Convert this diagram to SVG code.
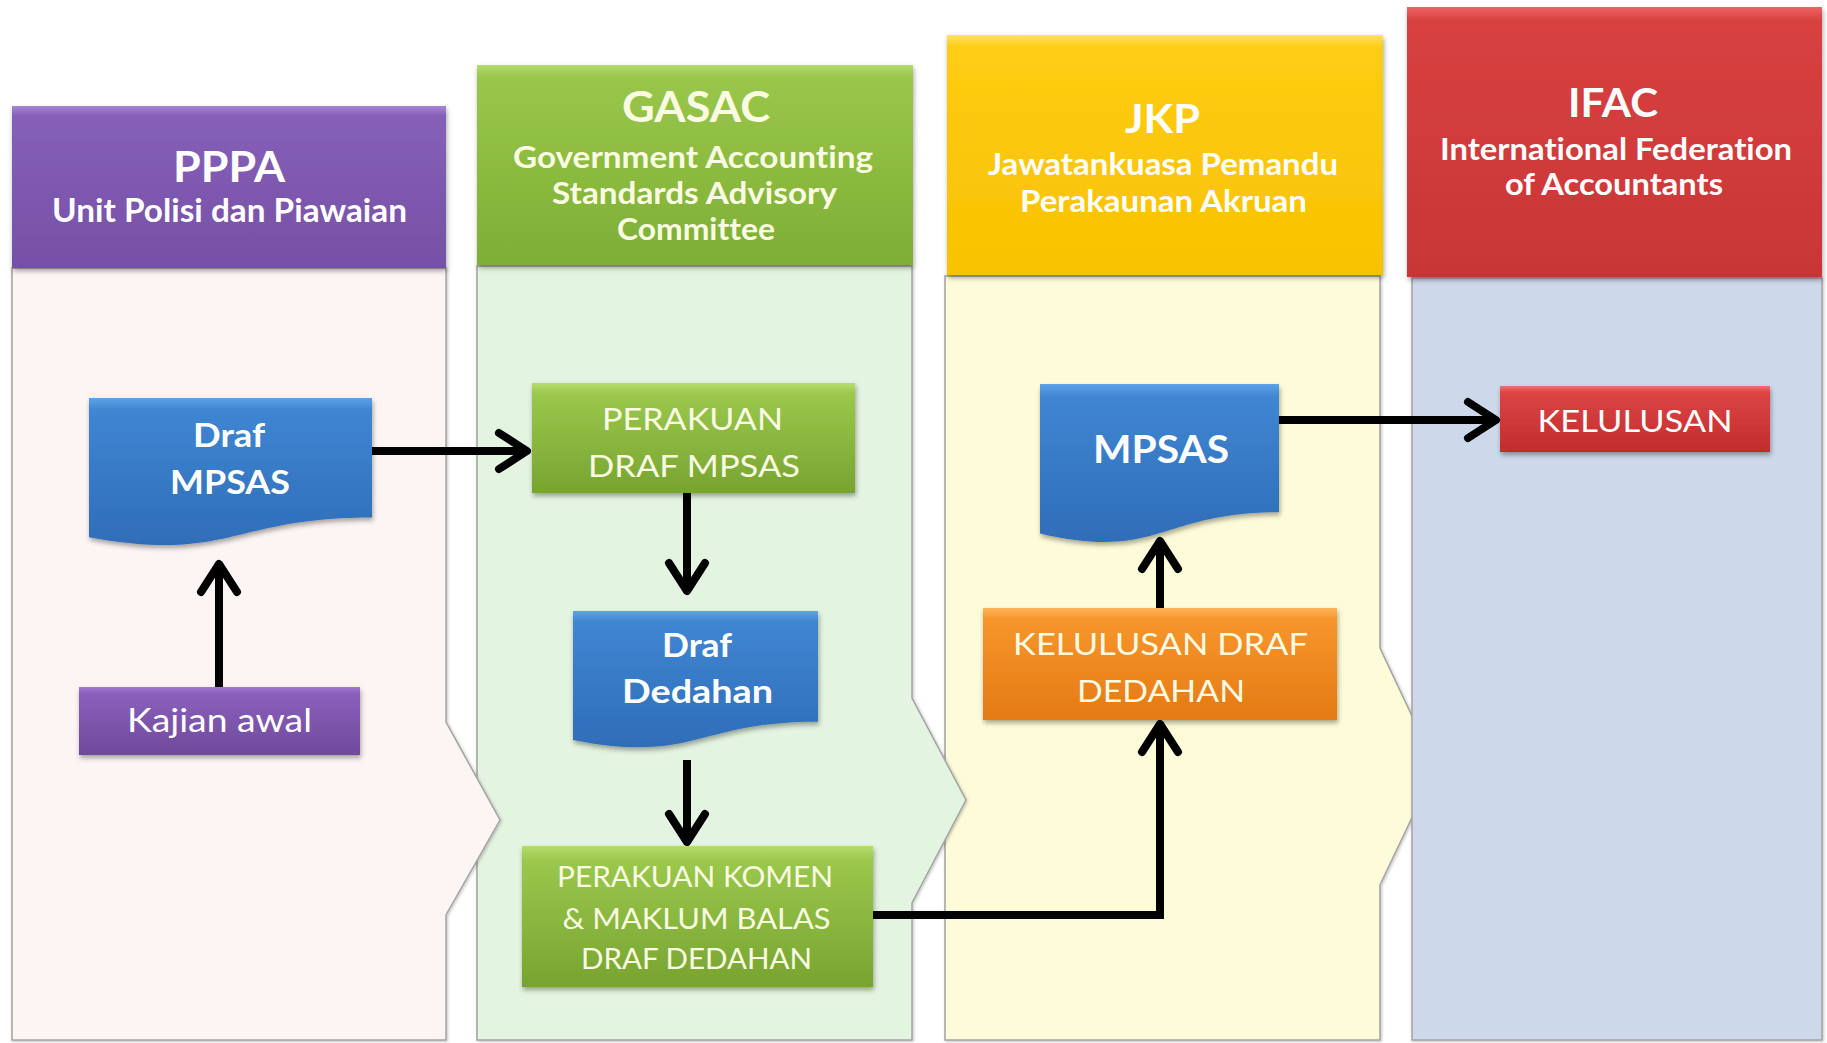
<svg xmlns="http://www.w3.org/2000/svg" width="1827" height="1043" viewBox="0 0 1827 1043">
<style>
.t{font-family:Lato,"Open Sans","Liberation Sans",sans-serif;text-anchor:middle;font-variant-ligatures:none;font-feature-settings:"liga" 0}
.b{font-weight:bold}
.w{fill:#ffffff}
.c{fill:#fafbe2}
.lane{stroke:#a3a3a3;stroke-width:1.5}
.edge{fill:none;stroke:#000;stroke-width:8}
</style>
<defs>
<filter id="sh" x="-10%" y="-10%" width="120%" height="130%">
<feDropShadow dx="1" dy="3" stdDeviation="2.5" flood-color="#000" flood-opacity="0.35"/>
</filter>
<filter id="lsh" x="-5%" y="-5%" width="110%" height="110%">
<feDropShadow dx="1" dy="1" stdDeviation="1.5" flood-color="#000" flood-opacity="0.25"/>
</filter>
<linearGradient id="gPur" x1="0" y1="0" x2="0" y2="1"><stop offset="0" stop-color="#a884d6"/><stop offset="0.06" stop-color="#8660b8"/><stop offset="1" stop-color="#7650a6"/></linearGradient>
<linearGradient id="gGrn" x1="0" y1="0" x2="0" y2="1"><stop offset="0" stop-color="#b4dc6a"/><stop offset="0.06" stop-color="#98c74a"/><stop offset="1" stop-color="#7fae36"/></linearGradient>
<linearGradient id="gYel" x1="0" y1="0" x2="0" y2="1"><stop offset="0" stop-color="#ffe264"/><stop offset="0.05" stop-color="#ffcc14"/><stop offset="1" stop-color="#f8c200"/></linearGradient>
<linearGradient id="gRed" x1="0" y1="0" x2="0" y2="1"><stop offset="0" stop-color="#ec6464"/><stop offset="0.05" stop-color="#d94040"/><stop offset="1" stop-color="#c83636"/></linearGradient>
<linearGradient id="gBlu" x1="0" y1="0" x2="0" y2="1"><stop offset="0" stop-color="#5ea2e6"/><stop offset="0.08" stop-color="#3f86d2"/><stop offset="1" stop-color="#2f6db8"/></linearGradient>
<linearGradient id="gBox" x1="0" y1="0" x2="0" y2="1"><stop offset="0" stop-color="#b6dc6c"/><stop offset="0.1" stop-color="#9ac84c"/><stop offset="1" stop-color="#77a430"/></linearGradient>
<linearGradient id="gOrg" x1="0" y1="0" x2="0" y2="1"><stop offset="0" stop-color="#ffb45a"/><stop offset="0.1" stop-color="#f6962c"/><stop offset="1" stop-color="#e57a14"/></linearGradient>
<linearGradient id="gRbx" x1="0" y1="0" x2="0" y2="1"><stop offset="0" stop-color="#f07070"/><stop offset="0.1" stop-color="#dc4444"/><stop offset="1" stop-color="#c22c2c"/></linearGradient>
<linearGradient id="gPbx" x1="0" y1="0" x2="0" y2="1"><stop offset="0" stop-color="#a27ad0"/><stop offset="0.1" stop-color="#8a5fbc"/><stop offset="1" stop-color="#6f4a9c"/></linearGradient>
<marker id="ah" markerUnits="userSpaceOnUse" viewBox="-40 -30 50 60" markerWidth="50" markerHeight="60" refX="0" refY="0" orient="auto" overflow="visible">
<path d="M-26,-18 L2,0 L-26,18" fill="none" stroke="#000" stroke-width="8" stroke-linecap="round" stroke-linejoin="round"/>
</marker>
</defs>
<rect width="1827" height="1043" fill="#ffffff"/>

<g id="lane-jkp">
<path class="lane" filter="url(#lsh)" d="M945,276 H1380 V648 L1436,767 L1380,885 V1040 H945 Z" fill="#fefcd8"/>
<rect x="947" y="35" width="436" height="240" fill="url(#gYel)" filter="url(#sh)"/>
<text class="t b w" x="1162.5" y="133" font-size="40" textLength="75" lengthAdjust="spacingAndGlyphs">JKP</text>
<text class="t b w" x="1163" y="175" font-size="30" textLength="350" lengthAdjust="spacingAndGlyphs">Jawatankuasa Pemandu</text>
<text class="t b w" x="1163.5" y="212" font-size="30" textLength="287" lengthAdjust="spacingAndGlyphs">Perakaunan Akruan</text>
</g>
<g id="lane-ifac">
<path class="lane" filter="url(#lsh)" d="M1412,278 H1822 V1040 H1412 Z" fill="#cdd8ea"/>
<rect x="1407" y="7" width="415" height="270" fill="url(#gRed)" filter="url(#sh)"/>
<text class="t b w" x="1613" y="117" font-size="40" textLength="90" lengthAdjust="spacingAndGlyphs">IFAC</text>
<text class="t b w" x="1616" y="160" font-size="30" textLength="352" lengthAdjust="spacingAndGlyphs">International Federation</text>
<text class="t b w" x="1614" y="195" font-size="30" textLength="218" lengthAdjust="spacingAndGlyphs">of Accountants</text>
</g>
<g id="lane-gasac">
<path class="lane" filter="url(#lsh)" d="M477,266 H912 V698 L966,800 L912,903 V1040 H477 Z" fill="#e3f4e0"/>
<rect x="477" y="65" width="436" height="200" fill="url(#gGrn)" filter="url(#sh)"/>
<text class="t b c" x="696" y="122" font-size="42" textLength="148" lengthAdjust="spacingAndGlyphs">GASAC</text>
<text class="t b c" x="693" y="168" font-size="30" textLength="360" lengthAdjust="spacingAndGlyphs">Government Accounting</text>
<text class="t b c" x="694.5" y="204" font-size="30" textLength="285" lengthAdjust="spacingAndGlyphs">Standards Advisory</text>
<text class="t b c" x="696" y="240" font-size="30" textLength="158" lengthAdjust="spacingAndGlyphs">Committee</text>
</g>
<g id="lane-pppa">
<path class="lane" filter="url(#lsh)" d="M12,268 H446 V722 L500,820 L446,915 V1040 H12 Z" fill="#fcf5f3"/>
<rect x="12" y="106" width="434" height="162" fill="url(#gPur)" filter="url(#sh)"/>
<text class="t b w" x="229" y="182" font-size="42" textLength="112" lengthAdjust="spacingAndGlyphs">PPPA</text>
<text class="t b w" x="229.5" y="222" font-size="32" textLength="355" lengthAdjust="spacingAndGlyphs">Unit Polisi dan Piawaian</text>
</g>

<g id="connectors">
<path class="edge" d="M219,687 V566" marker-end="url(#ah)"/>
<path class="edge" d="M372,451 H525" marker-end="url(#ah)"/>
<path class="edge" d="M687,493 V589" marker-end="url(#ah)"/>
<path class="edge" d="M687,760 V840" marker-end="url(#ah)"/>
<path class="edge" d="M873,915 H1160 V726" marker-end="url(#ah)"/>
<path class="edge" d="M1160,608 V543" marker-end="url(#ah)"/>
<path class="edge" d="M1279,420 H1494" marker-end="url(#ah)"/>
</g>

<g id="node-draf-mpsas">
<path d="M89,398 H372 V517.5 C230.5,517.5 230.5,563 89,537.2 Z" fill="url(#gBlu)" filter="url(#sh)"/>
<text class="t b w" x="229" y="447" font-size="32" textLength="72" lengthAdjust="spacingAndGlyphs">Draf</text>
<text class="t b w" x="230" y="494" font-size="32" textLength="120" lengthAdjust="spacingAndGlyphs">MPSAS</text>
</g>
<g id="node-kajian">
<rect x="79" y="687" width="281" height="68" fill="url(#gPbx)" filter="url(#sh)"/>
<text class="t w" x="219.5" y="732" font-size="32" textLength="185" lengthAdjust="spacingAndGlyphs">Kajian awal</text>
</g>
<g id="node-perakuan-draf">
<rect x="532" y="383" width="323" height="110" fill="url(#gBox)" filter="url(#sh)"/>
<text class="t c" x="692.5" y="430" font-size="30" textLength="181" lengthAdjust="spacingAndGlyphs">PERAKUAN</text>
<text class="t c" x="694" y="477" font-size="30" textLength="212" lengthAdjust="spacingAndGlyphs">DRAF MPSAS</text>
</g>
<g id="node-draf-dedahan">
<path d="M573,611 H818 V721.7 C695.5,721.7 695.5,763.9 573,739.9 Z" fill="url(#gBlu)" filter="url(#sh)"/>
<text class="t b w" x="697" y="657" font-size="32" textLength="70" lengthAdjust="spacingAndGlyphs">Draf</text>
<text class="t b w" x="697.5" y="703" font-size="32" textLength="151" lengthAdjust="spacingAndGlyphs">Dedahan</text>
</g>
<g id="node-perakuan-komen">
<rect x="522" y="846" width="351" height="141" fill="url(#gBox)" filter="url(#sh)"/>
<text class="t c" x="695" y="887" font-size="28" textLength="276" lengthAdjust="spacingAndGlyphs">PERAKUAN KOMEN</text>
<text class="t c" x="696.5" y="929" font-size="28" textLength="268" lengthAdjust="spacingAndGlyphs">&amp; MAKLUM BALAS</text>
<text class="t c" x="696.5" y="969" font-size="28" textLength="231" lengthAdjust="spacingAndGlyphs">DRAF DEDAHAN</text>
</g>
<g id="node-kelulusan-draf">
<rect x="983" y="608" width="354" height="112" fill="url(#gOrg)" filter="url(#sh)"/>
<text class="t c" x="1160.5" y="655" font-size="30" textLength="295" lengthAdjust="spacingAndGlyphs">KELULUSAN DRAF</text>
<text class="t c" x="1161" y="702" font-size="30" textLength="168" lengthAdjust="spacingAndGlyphs">DEDAHAN</text>
</g>
<g id="node-mpsas">
<path d="M1040,384 H1279 V512.3 C1159.5,512.3 1159.5,561.3 1040,533.4 Z" fill="url(#gBlu)" filter="url(#sh)"/>
<text class="t b w" x="1161" y="463" font-size="38" textLength="136" lengthAdjust="spacingAndGlyphs">MPSAS</text>
</g>
<g id="node-kelulusan">
<rect x="1500" y="386" width="270" height="66" fill="url(#gRbx)" filter="url(#sh)"/>
<text class="t w" x="1635" y="432" font-size="30" textLength="195" lengthAdjust="spacingAndGlyphs">KELULUSAN</text>
</g>
</svg>
